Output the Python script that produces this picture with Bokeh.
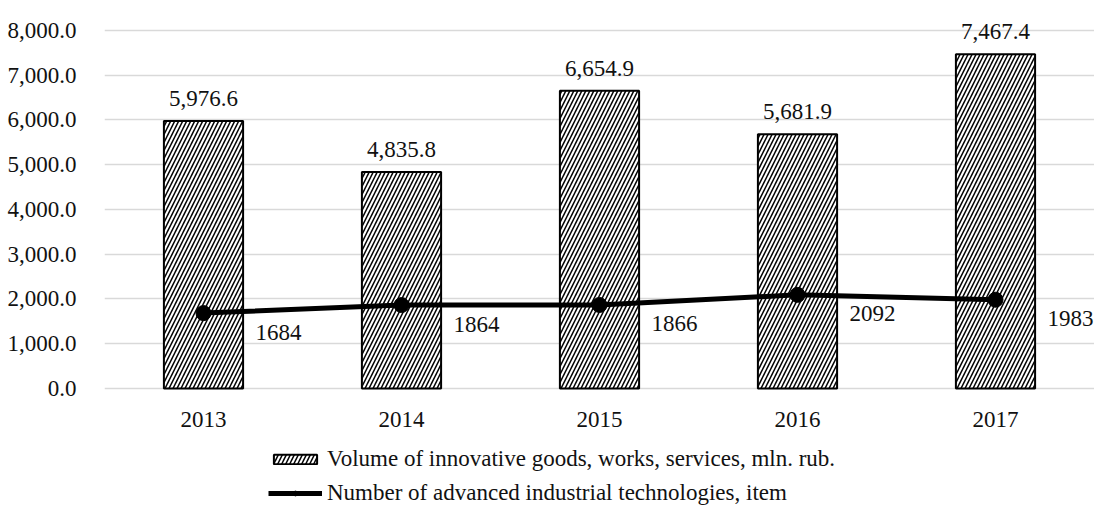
from bokeh.plotting import figure
from bokeh.models import (ColumnDataSource, FactorRange, Range1d, LabelSet, Legend, LegendItem,
                          NumeralTickFormatter, FixedTicker)
from bokeh.core.properties import value
from bokeh.embed import file_html
from bokeh.resources import INLINE

years = ["2013", "2014", "2015", "2016", "2017"]
volume = [5976.6, 4835.8, 6654.9, 5681.9, 7467.4]
technologies = [1684, 1864, 1866, 2092, 1983]
volume_labels = ["5,976.6", "4,835.8", "6,654.9", "5,681.9", "7,467.4"]
tech_labels = ["1684", "1864", "1866", "2092", "1983"]
y_ticks = [0, 1000, 2000, 3000, 4000, 5000, 6000, 7000, 8000]

FONT = "Liberation Serif"
FS = "23px"
TXT = "#111111"

src = ColumnDataSource(dict(x=years, v=volume, t=technologies, vl=volume_labels, tl=tech_labels))

# the frame reaches the bottom of the canvas so that the legend can sit inside it
p = figure(x_range=FactorRange(*years), y_range=Range1d(-2615, 8536),
           width=1094, height=505, output_backend="svg", toolbar_location=None,
           min_border_left=104, min_border_right=0, min_border_top=6, min_border_bottom=0)
p.outline_line_color = None
p.background_fill_color = "white"

bars = p.vbar(x="x", top="v", width=0.4, source=src, fill_color="white",
              line_color="black", line_width=2, hatch_pattern="/", hatch_color="black",
              hatch_scale=8, hatch_weight=1.5)
line = p.line(x="x", y="t", source=src, line_color="black", line_width=5)
dots = p.scatter(x="x", y="t", source=src, size=15, fill_color="black", line_color="black")

p.add_layout(LabelSet(x="x", y="v", text="vl", source=src, text_align="center",
                      text_baseline="bottom", y_offset=15, text_font=value(FONT),
                      text_font_size=value(FS), text_color=TXT))
p.add_layout(LabelSet(x="x", y="t", text="tl", source=src, text_align="left",
                      text_baseline="middle", x_offset=52, y_offset=-19, text_font=value(FONT),
                      text_font_size=value(FS), text_color=TXT))

p.yaxis.ticker = FixedTicker(ticks=y_ticks)
p.yaxis.formatter = NumeralTickFormatter(format="0,0.0")
p.xaxis.fixed_location = 0
for ax in (p.xaxis[0], p.yaxis[0]):
    ax.axis_line_color = None
    ax.major_tick_line_color = None
    ax.minor_tick_line_color = None
    ax.major_label_text_font = FONT
    ax.major_label_text_font_size = FS
    ax.major_label_text_color = TXT
p.yaxis.major_label_standoff = 22
p.xaxis.major_label_standoff = 18

p.xgrid.grid_line_color = None
p.ygrid.grid_line_color = "#d9d9d9"
p.ygrid.grid_line_width = 1.5
p.ygrid.ticker = FixedTicker(ticks=y_ticks)

legend = Legend(items=[
    LegendItem(label="Volume of innovative goods, works, services, mln. rub.", renderers=[bars]),
    LegendItem(label="Number of advanced industrial technologies, item", renderers=[line, dots]),
], location=(164, -1), orientation="vertical", glyph_width=54, glyph_height=12,
   label_standoff=5, spacing=8, padding=0, margin=0, border_line_color=None,
   background_fill_alpha=0, label_text_font=FONT, label_text_font_size=FS,
   label_text_color=TXT)
p.add_layout(legend)

open("out.html", "w").write(file_html(p, INLINE))
